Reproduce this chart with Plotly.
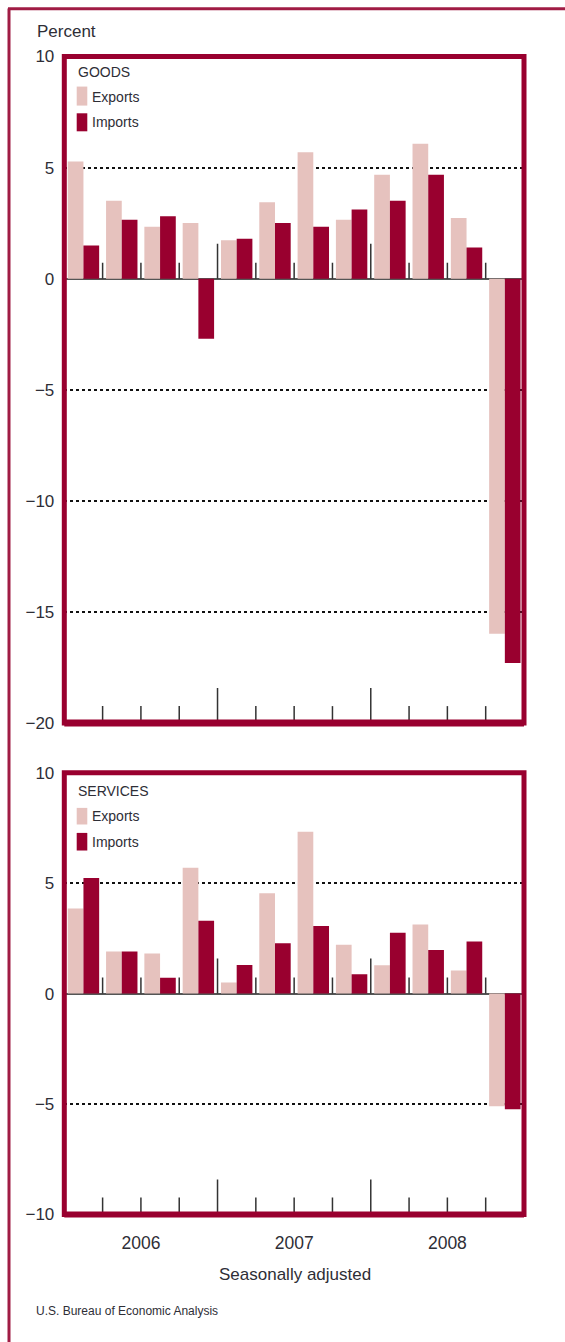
import plotly.graph_objects as go

# ---------------- data ----------------
quarters = ["2006 Q1", "2006 Q2", "2006 Q3", "2006 Q4",
            "2007 Q1", "2007 Q2", "2007 Q3", "2007 Q4",
            "2008 Q1", "2008 Q2", "2008 Q3", "2008 Q4"]
years = ["2006", "2007", "2008"]

goods_exports = [5.28, 3.51, 2.34, 2.51, 1.73, 3.44, 5.69, 2.66, 4.68, 6.07, 2.73, -15.98]
goods_imports = [1.49, 2.66, 2.81, -2.70, 1.80, 2.51, 2.34, 3.12, 3.51, 4.68, 1.41, -17.30]

services_exports = [3.85, 1.90, 1.82, 5.70, 0.50, 4.54, 7.33, 2.21, 1.28, 3.13, 1.04, -5.10]
services_imports = [5.23, 1.90, 0.72, 3.30, 1.29, 2.28, 3.06, 0.87, 2.75, 1.97, 2.36, -5.24]

goods_ticks = [10, 5, 0, -5, -10, -15, -20]
services_ticks = [10, 5, 0, -5, -10]

# ---------------- style ----------------
W, H = 565, 1342
FONT = "Liberation Sans Narrow, Arial Narrow, Liberation Sans, Arial, sans-serif"
TXT = "#2e2e36"
MAROON = "#99002f"
PINK = "#e6c2be"
FRAME = "#a01c44"

# empirical mapping of the page photograph (screen_y = OFF + SC * figure_y)
OFF, SC = 8.5, 0.985


def px(xp):
    return xp / W


def py(yp):
    return 1 - ((yp - OFF) / SC) / H


xpos = list(range(len(quarters)))
xrange_ = [-0.5, len(quarters) - 0.5]
x_dom = [px(64.3), px(524)]
top_dom = [py(722), py(56)]
bot_dom = [py(1213), py(771.5)]

fig = go.Figure()

for data_e, data_i, xa, ya in [(goods_exports, goods_imports, "x", "y"),
                               (services_exports, services_imports, "x2", "y2")]:
    fig.add_trace(go.Bar(x=xpos, y=data_e, name="Exports", marker_color=PINK,
                         marker_line_width=0, xaxis=xa, yaxis=ya, showlegend=False))
    fig.add_trace(go.Bar(x=xpos, y=data_i, name="Imports", marker_color=MAROON,
                         marker_line_width=0, xaxis=xa, yaxis=ya, showlegend=False))

yaxis_common = dict(
    showgrid=True, griddash="dot", gridcolor="#111", gridwidth=1.5,
    zeroline=True, zerolinecolor="#555", zerolinewidth=2,
    showline=False, ticks="", layer="above traces",
    tickfont=dict(family=FONT, size=17, color=TXT),
    ticklabelstandoff=9, fixedrange=True,
)
xaxis_common = dict(
    range=xrange_, domain=x_dom, showgrid=False, zeroline=False,
    showline=False, ticks="", fixedrange=True,
    tickvals=[4 * i + 1.5 for i in range(len(years))], ticktext=years,
    tickfont=dict(family=FONT, size=17.5, color=TXT),
)

fig.update_layout(
    width=W, height=H,
    margin=dict(l=0, r=0, t=0, b=0),
    paper_bgcolor="white", plot_bgcolor="white",
    barmode="group", bargap=0.18, bargroupgap=0,
    xaxis=dict(**xaxis_common, anchor="y", showticklabels=False),
    yaxis=dict(**yaxis_common, domain=top_dom, range=[-20, 10],
               tickvals=goods_ticks, anchor="x"),
    xaxis2=dict(**xaxis_common, anchor="y2", showticklabels=True, ticklabelstandoff=16),
    yaxis2=dict(**yaxis_common, domain=bot_dom, range=[-10, 10],
                tickvals=services_ticks, anchor="x2"),
)

shapes = []
# outer frame (left + top lines)
shapes.append(dict(type="line", xref="paper", yref="paper", x0=px(9), x1=px(9),
                   y0=py(8), y1=-0.05, line=dict(color=FRAME, width=3)))
shapes.append(dict(type="line", xref="paper", yref="paper", x0=px(8), x1=px(W + 5),
                   y0=py(8.3), y1=py(8.3), line=dict(color=FRAME, width=3)))

# quarter boundary ticks
for xa, ya, ymin in [("x", "y", -20), ("x2", "y2", -10)]:
    for i in range(len(quarters) - 1):
        b = i + 0.5
        is_year = (i + 1) % 4 == 0
        shapes.append(dict(type="line", xref=xa, yref=ya, x0=b, x1=b,
                           ysizemode="pixel", yanchor=ymin, y0=0, y1=35 if is_year else 17,
                           line=dict(color="#333", width=1.5), layer="above"))
        shapes.append(dict(type="line", xref=xa, yref=ya, x0=b, x1=b,
                           ysizemode="pixel", yanchor=0, y0=0, y1=35 if is_year else 16,
                           line=dict(color="#333", width=1.5), layer="above"))

# panel borders
for xa, ya, bw in [("x", "y", 7), ("x2", "y2", 6)]:
    shapes.append(dict(type="rect", xref=xa + " domain", yref=ya + " domain",
                       x0=0, x1=1, y0=0, y1=1, line=dict(color=MAROON, width=5),
                       fillcolor="rgba(0,0,0,0)", layer="above"))
    shapes.append(dict(type="line", xref=xa + " domain", yref=ya + " domain",
                       x0=0, x1=1, y0=0, y1=0, line=dict(color=MAROON, width=bw),
                       layer="above"))

# legend swatches
for (ey0, ey1, iy0, iy1) in [(86, 105, 112.7, 130.7), (806.7, 823.3, 831.7, 849.3)]:
    shapes.append(dict(type="rect", xref="paper", yref="paper", x0=px(76.7), x1=px(87.3),
                       y0=py(ey1), y1=py(ey0), fillcolor=PINK, line=dict(width=0)))
    shapes.append(dict(type="rect", xref="paper", yref="paper", x0=px(76.7), x1=px(87.3),
                       y0=py(iy1), y1=py(iy0), fillcolor=MAROON, line=dict(width=0)))

fig.update_layout(shapes=shapes)

ann = []


def text(t, x, y, size, xanchor="left"):
    ann.append(dict(text=t, xref="paper", yref="paper", x=px(x), y=py(y),
                    xanchor=xanchor, yanchor="middle", showarrow=False,
                    font=dict(family=FONT, size=size, color=TXT)))


text("Percent", 35, 30.5, 17)
text("GOODS", 75.5, 71.7, 14)
text("Exports", 89.5, 96.7, 14)
text("Imports", 89.5, 121.7, 14)
text("SERVICES", 75.5, 790, 14)
text("Exports", 89.5, 815, 14)
text("Imports", 89.5, 841, 14)
text("Seasonally adjusted", 295, 1273, 17, "center")
text("U.S. Bureau of Economic Analysis", 34, 1309, 12)
fig.update_layout(annotations=ann)

fig.write_html(
    "out.html",
    config={"displayModeBar": False},
    post_script="document.body.style.margin='0';document.body.style.overflow='hidden';",
)
